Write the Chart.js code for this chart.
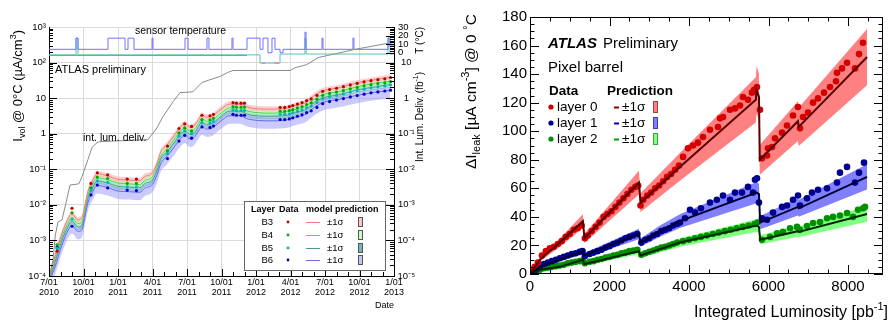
<!DOCTYPE html>
<html>
<head>
<meta charset="utf-8">
<script src="https://cdn.jsdelivr.net/npm/chart.js@4.4.0/dist/chart.umd.min.js"></script>
<style>
  html, body { margin: 0; padding: 0; background: #fff; }
  #wrap { position: relative; width: 891px; height: 320px; overflow: hidden; }
  #left { position: absolute; left: 0; top: 0; }
  #right { position: absolute; left: 455px; top: 0; }
</style>
</head>
<body>
<div id="wrap">
  <canvas id="left" width="455" height="320" style="width:455px;height:320px"></canvas>
  <canvas id="right" width="436" height="320" style="width:436px;height:320px"></canvas>
</div>
<script>
// ---------- left chart: I_vol vs date (months since 7/01/2010) ----------
const dateTickMonths = [0, 3, 6, 9, 12, 15, 18, 21, 24, 27, 30];
const dateTicks = [['7/01','2010'],['10/01','2010'],['1/01','2011'],['4/01','2011'],['7/01','2011'],
                   ['10/01','2011'],['1/01','2012'],['4/01','2012'],['7/01','2012'],['10/01','2012'],['1/01','2013']];
const ivolDecades = [1e-4, 1e-3, 1e-2, 1e-1, 1, 10, 100, 1000];
const lumDecades = [1e-5, 1e-4, 1e-3, 1e-2, 1e-1, 1, 10];

const predMonths = [0.1, 0.5, 1.1, 1.65, 2.0, 2.5, 2.8, 3.4, 3.7, 4.2, 5.1, 6.0, 7.0, 7.9, 8.3, 9.0, 9.4, 9.7, 10.3, 11.0,
                    11.4, 11.8, 12.3, 12.7, 13.0, 13.3, 13.7, 14.2, 14.5, 15.0, 15.7, 16.6, 17.3, 18.2, 19.2, 20.5, 21.4, 22.3, 23.1, 23.8,
                    25.3, 26.8, 28.3, 29.65];
const predB3 = [1.1e-4, 3.5e-4, 1.5e-3, 4e-3, 5.5e-3, 3.8e-3, 4e-3, 2.5e-2, 4.2e-2, 7.5e-2, 6.5e-2, 5.2e-2, 5.0e-2, 4.8e-2, 6.2e-2, 8e-2, 0.15, 0.3, 0.5, 1.0,
                1.5, 1.9, 1.5, 1.8, 2.5, 3.3, 2.9, 3.1, 3.7, 5.0, 6.8, 6.8, 5.5, 5.0, 4.9, 5.1, 6.2, 7.5, 12, 16,
                20, 27, 33, 38];
const predB4 = [1e-4, 2.8e-4, 1.2e-3, 3.1e-3, 4.3e-3, 3e-3, 3.1e-3, 1.95e-2, 3.3e-2, 5.8e-2, 5.1e-2, 4.1e-2, 3.9e-2, 3.7e-2, 4.8e-2, 6.2e-2, 0.12, 0.23, 0.39, 0.78,
                1.17, 1.48, 1.17, 1.4, 1.95, 2.6, 2.25, 2.4, 2.9, 3.9, 5.3, 5.3, 4.3, 3.9, 3.8, 4.0, 4.8, 5.9, 9.4, 12.5,
                15.6, 21, 26, 30];
const predB5 = [0.9e-4, 2.3e-4, 0.95e-3, 2.5e-3, 3.5e-3, 2.4e-3, 2.5e-3, 1.6e-2, 2.65e-2, 4.7e-2, 4.1e-2, 3.3e-2, 3.15e-2, 3.0e-2, 3.9e-2, 5.0e-2, 9.5e-2, 0.19, 0.32, 0.63,
                0.95, 1.2, 0.95, 1.13, 1.6, 2.1, 1.8, 1.95, 2.3, 3.15, 4.3, 4.3, 3.5, 3.15, 3.1, 3.2, 3.9, 4.7, 7.6, 10,
                12.6, 17, 20.5, 24];
const predB6 = [0.8e-4, 1.7e-4, 0.7e-3, 1.9e-3, 2.6e-3, 1.8e-3, 1.9e-3, 1.2e-2, 2.0e-2, 3.5e-2, 3.05e-2, 2.45e-2, 2.35e-2, 2.25e-2, 2.9e-2, 3.8e-2, 7e-2, 0.14, 0.24, 0.47,
                0.7, 0.9, 0.7, 0.85, 1.2, 1.55, 1.35, 1.45, 1.75, 2.35, 3.2, 3.2, 2.6, 2.35, 2.3, 2.4, 2.9, 3.5, 5.6, 7.5,
                9.4, 12, 14.5, 16.5];
// +-1 sigma band, as factor on the prediction [upper, lower]
const bandB3 = [1.2, 0.85], bandB4 = [1.18, 0.85], bandB5 = [1.18, 0.82], bandB6 = [1.25, 0.6];

const dataMonths = [0.7, 2.0, 3.65, 4.2, 5.1, 6.8, 7.6, 10.3, 11.3, 11.8, 12.4, 13.3, 14.0, 14.3, 16.0, 16.3, 16.7, 17.0, 20.1, 20.5,
                    20.9, 21.2, 21.6, 22.0, 22.4, 22.8, 23.3, 23.8, 24.4, 25.0, 25.6, 26.2, 26.8, 27.4, 28.0, 28.6, 29.2, 29.7];
const dataB3 = [5e-4, 8e-3, 4e-2, 8e-2, 7e-2, 5.3e-2, 5.3e-2, 0.45, 1.4, 1.9, 1.6, 3.3, 3.2, 3.5, 7.5, 7.2, 7.2, 7.2, 5.5, 5.5,
                5.8, 6.2, 6.8, 7.5, 8.5, 9.5, 12, 15.5, 17.5, 19, 21, 23.5, 26, 28.5, 31, 33, 35, 38];
const dataB4 = [7.5e-4, 6e-3, 3e-2, 6e-2, 5.5e-2, 4e-2, 4e-2, 0.33, 1.05, 1.45, 1.2, 2.5, 2.45, 2.7, 5.8, 5.6, 5.6, 5.6, 4.3, 4.3,
                4.5, 4.8, 5.3, 5.8, 6.6, 7.4, 9.3, 12, 13.6, 14.8, 16.3, 18.3, 20, 22, 24, 25.7, 27, 29];
const dataB5 = [6e-4, 4e-3, 2.5e-2, 4.7e-2, 4.3e-2, 3.2e-2, 3.2e-2, 0.27, 0.85, 1.2, 1.0, 2.05, 2.0, 2.2, 4.7, 4.5, 4.5, 4.5, 3.5, 3.5,
                3.6, 3.9, 4.3, 4.7, 5.3, 6.0, 7.5, 9.7, 11, 12, 13.2, 14.8, 16.3, 17.8, 19.5, 20.8, 22, 23.5];
const dataB6 = [6.5e-4, 2.5e-3, 1.9e-2, 3.6e-2, 3.0e-2, 2.6e-2, 2.5e-2, 0.2, 0.62, 0.9, 0.75, 1.55, 1.5, 1.65, 3.5, 3.3, 3.3, 3.3, 2.5, 2.5,
                2.6, 2.8, 3.1, 3.4, 3.9, 4.4, 5.5, 7.0, 8.0, 8.8, 9.7, 10.8, 11.8, 12.9, 14.1, 15.0, 15.9, 16.8];

// integrated delivered luminosity (fb^-1)
const lumMonths = [0.0, 0.09, 0.35, 0.55, 0.78, 1.13, 1.48, 1.83, 2.6, 2.87, 3.39, 3.74, 4.17, 4.43, 8.6, 9.4, 9.9, 10.8, 11.4, 12.5,
                   13.3, 14.0, 14.9, 15.5, 16.0, 21.0, 21.4, 22.4, 23.4, 26.6, 29.5, 30];
const lumVals = [1e-5, 1.2e-5, 2.8e-5, 1.4e-4, 3.3e-4, 3.8e-4, 1.15e-3, 3.6e-3, 3.9e-3, 6.2e-3, 1.9e-2, 4.1e-2, 5.6e-2, 6.0e-2, 6.8e-2, 0.148, 0.30, 0.8, 1.43, 1.5,
                 2.75, 3.3, 4.1, 5.2, 6.0, 6.0, 7.2, 8.7, 13.8, 23.5, 35, 36];

// sensor temperature (deg C), step lines
const tempBlueMonths = [0, 2.35, 2.52, 5.13, 6.61, 6.87, 7.39, 8.96, 9.04, 11.83, 12.09, 13.74, 13.91, 15.91, 16.0, 17.22,
                        18.35, 18.61, 19.04, 19.39, 19.65, 20.09, 20.35, 22.26, 22.35, 23.74, 23.83, 26.43, 26.52, 29.48, 29.65, 30];
const tempBlueVals = [4, 17, 4, 17, 4, 17, 4, 17, 4, 17, 4, 17, 4, 17, 4, 17,
                      4, 17, 0, 17, 4, 0, 4, 24, 4, 17, 4, 17, 4, 17, 8, 8];
const tempTealMonths = [0, 2.35, 2.52, 18.35, 20.09, 22.26, 22.35, 29.48, 29.65, 30];
const tempTealVals = [-2.5, 17, -2.5, -12, -1.5, 17, -1.5, 17, -1.5, -1.5];
const tempGreenMonths = [0, 17.22];
const tempGreenVals = [-3, -3];
const tempRedMonths = [18.5, 18.8, 18.8, 19.6, 20.0];
const tempRedVals = [-12, -12, null, -12, -12];

// ---------- right chart: delta I_leak vs integrated luminosity (pb^-1) ----------
const lumiTicks = [0, 2000, 4000, 6000, 8000];
const ileakTicks = [0, 20, 40, 60, 80, 100, 120, 140, 160, 180];

const pred0Lumi = [0, 250, 750, 1330, 1370, 2740, 2780, 3770, 5680, 5700, 5760, 5780, 6740, 6760, 8480];
const pred0 = [0, 10, 22, 37, 25, 64, 50, 75, 122, 129, 124, 80, 107, 103, 152];
const pred1Lumi = [0, 250, 750, 1330, 1370, 2740, 2780, 3270, 3770, 5700, 5760, 5790, 6740, 6760, 8480];
const pred1 = [0, 5, 10, 16, 13, 28, 22, 30, 37, 57, 56, 36, 47, 46, 68];
const pred2Lumi = [0, 250, 750, 1330, 1370, 2740, 2780, 3770, 5700, 5760, 5790, 6740, 6760, 8480];
const pred2 = [0, 3, 5, 10, 7, 16, 13, 22, 34, 33, 24, 30, 29.5, 42];
const bandRel = [0.13, 0.13, 0.13];

const data0Lumi = [50, 120, 200, 300, 400, 500, 600, 700, 800, 900, 1000, 1100, 1200, 1300,
                   1380, 1450, 1550, 1650, 1750, 1850, 1950, 2050, 2150, 2250, 2350, 2450, 2550, 2650, 2720,
                   2780, 2850, 2950, 3050, 3150, 3250, 3350, 3450, 3550, 3650, 3750,
                   3850, 3975, 4100, 4226, 4352, 4528, 4730, 4780, 4855, 5031, 5157, 5283, 5358, 5484, 5584, 5635, 5710, 5786,
                   5836, 5962, 5987, 6088, 6164, 6340, 6465, 6616, 6742, 6792, 6868, 6994, 7120, 7245, 7396, 7547, 7698, 7723, 7849, 7975, 8176, 8277, 8377];
const data0 = [3, 5, 8, 13, 16, 18, 19, 21, 23, 26, 28, 31, 32, 34,
               25, 27, 30, 33, 36, 40, 42, 44, 47, 50, 53, 56, 59, 61, 62,
               48, 52, 55, 57, 60, 62, 65, 68, 70, 73, 76,
               82, 88, 90, 92, 96, 101, 103, 109, 110, 115, 116, 118, 124, 122, 127, 129, 131, 115,
               81, 83, 88, 89, 95, 99, 104, 111, 117, 102, 110, 113, 120, 123, 127, 131, 135, 141, 144, 148, 144, 154, 162];
const data1Lumi = [50, 150, 250, 350, 450, 550, 650, 750, 850, 950, 1050, 1150, 1250, 1320,
                   1380, 1500, 1600, 1700, 1800, 1900, 2000, 2100, 2200, 2300, 2400, 2500, 2600, 2700,
                   2800, 2900, 3000, 3100, 3200, 3300, 3400, 3500, 3600, 3700,
                   3774, 3900, 4025, 4151, 4300, 4528, 4700, 4855, 5031, 5157, 5333, 5484, 5610, 5660, 5710, 5760,
                   5836, 5962, 6113, 6340, 6465, 6616, 6742, 6792, 6968, 7094, 7245, 7472, 7723, 7798, 7975, 8176, 8277, 8402];
const data1 = [1.5, 3, 5, 7, 8, 9, 10, 11, 12, 13, 14, 14.5, 15.5, 16,
               12.5, 14, 15, 16, 17, 18.5, 19.5, 21, 22, 23.5, 25, 26, 27, 28,
               22, 24, 25, 27, 28, 30, 31, 32, 34, 35,
               36, 39, 45, 43, 46, 50, 52, 55, 52, 57, 57, 61, 57, 66, 67, 50,
               39, 38, 43, 47, 48, 52, 55, 48, 53, 57, 59, 60, 64, 71, 75, 64, 71, 78];
const data2Lumi = [50, 150, 250, 350, 450, 550, 650, 750, 850, 950, 1050, 1150, 1250, 1320,
                   1380, 1500, 1600, 1700, 1800, 1900, 2000, 2100, 2200, 2300, 2400, 2500, 2600, 2700,
                   2800, 2900, 3000, 3100, 3200, 3300, 3400, 3500, 3600, 3700, 3850, 4000, 4150, 4300, 4450, 4600, 4750, 4900, 5050, 5200, 5350, 5500, 5650, 5720,
                   5836, 6038, 6214, 6365, 6541, 6717, 6792, 6968, 7120, 7296, 7472, 7623, 7798, 7975, 8126, 8251, 8377, 8427];
const data2 = [1, 2, 3, 4, 4.5, 5, 5.5, 6, 6.5, 7.5, 8, 8.5, 9, 9.5,
               7.5, 8.5, 9, 10, 10.5, 11.5, 12, 13, 13.5, 14.5, 15, 16, 16.5, 17,
               13.5, 14.5, 15.5, 16.5, 17.5, 18.5, 19, 20, 21, 22, 23, 24, 25, 26, 27, 28, 29, 30, 31, 32, 33, 34, 35, 36,
               24, 26, 28.5, 29.5, 32, 33, 31, 33.6, 35.7, 36.4, 39, 40, 41, 42.7, 40, 45, 46, 47];

// ---------- helpers ----------
const FONT = "'Liberation Sans', Arial, Helvetica, sans-serif";
Chart.defaults.font.family = FONT;
Chart.defaults.color = '#000';

const sup = { '-': '\u207B', '0': '\u2070', '1': '\u00B9', '2': '\u00B2', '3': '\u00B3', '4': '\u2074', '5': '\u2075' };
function decadeLabel(v) {
  const e = Math.round(Math.log10(v));
  if (e === 0) return '1';
  if (e === 1) return '10';
  return '10' + String(e).split('').map(c => sup[c]).join('');
}
function pts(xs, ys) { return xs.map((x, i) => ({ x: x, y: ys[i] })); }
function scaled(xs, ys, f) { return xs.map((x, i) => ({ x: x, y: ys[i] * f })); }

function seg(ctx, x1, y1, x2, y2) { ctx.beginPath(); ctx.moveTo(x1, y1); ctx.lineTo(x2, y2); ctx.stroke(); }
function text(ctx, s, x, y, size, style, align) {
  ctx.font = (style || '') + ' ' + size + 'px ' + FONT;
  ctx.textAlign = align || 'left';
  ctx.textBaseline = 'middle';
  ctx.fillStyle = '#000';
  ctx.fillText(s, x, y);
}
// vertical text, reading bottom to top, ending at yTop
function rotatedText(ctx, pieces, x, yTop, base) {
  let total = 0;
  pieces.forEach(p => { ctx.font = p.size + 'px ' + FONT; p.w = ctx.measureText(p.t).width; total += p.w; });
  ctx.save();
  ctx.translate(x, yTop + total);
  ctx.rotate(-Math.PI / 2);
  ctx.textAlign = 'left';
  ctx.textBaseline = 'alphabetic';
  ctx.fillStyle = '#000';
  let cx = 0;
  pieces.forEach(p => { ctx.font = p.size + 'px ' + FONT; ctx.fillText(p.t, cx, base + (p.dy || 0)); cx += p.w; });
  ctx.restore();
}

// ---------- left chart ----------
const layers = [
  { name: 'B3', pred: predB3, data: dataB3, band: bandB3, line: '#f07a7a', dot: '#c00000', fill: 'rgba(255,165,165,0.55)', swatch: '#ffc4c4' },
  { name: 'B4', pred: predB4, data: dataB4, band: bandB4, line: '#55cc55', dot: '#00aa00', fill: 'rgba(150,255,150,0.5)', swatch: '#c4ffc4' },
  { name: 'B5', pred: predB5, data: dataB5, band: bandB5, line: '#4d9a92', dot: '#00b8b8', fill: 'rgba(70,170,170,0.4)', swatch: '#6fbaba' },
  { name: 'B6', pred: predB6, data: dataB6, band: bandB6, line: '#6666ee', dot: '#0000cc', fill: 'rgba(150,150,255,0.5)', swatch: '#c4c4ff' }
];

const leftSets = [];
layers.forEach(L => {
  leftSets.push({ data: scaled(predMonths, L.pred, L.band[0]), fill: '+1', backgroundColor: L.fill, borderColor: 'rgba(0,0,0,0)',
                  borderWidth: 0, pointRadius: 0, cubicInterpolationMode: 'monotone', order: 10 });
  leftSets.push({ data: scaled(predMonths, L.pred, L.band[1]), fill: false, borderColor: 'rgba(0,0,0,0)',
                  borderWidth: 0, pointRadius: 0, cubicInterpolationMode: 'monotone', order: 10 });
});
layers.forEach(L => {
  leftSets.push({ data: pts(predMonths, L.pred), borderColor: L.line, borderWidth: 1, pointRadius: 0, fill: false,
                  cubicInterpolationMode: 'monotone', order: 5 });
  leftSets.push({ data: pts(dataMonths, L.data), showLine: false, pointRadius: 1.6, pointBorderWidth: 0,
                  pointBackgroundColor: L.dot, order: 1 });
});
leftSets.push({ data: pts(lumMonths, lumVals), yAxisID: 'lum', borderColor: '#8a8a8a', borderWidth: 1, pointRadius: 0, fill: false, order: 2 });
leftSets.push({ data: pts(tempTealMonths, tempTealVals), yAxisID: 'temp', stepped: true, borderColor: '#55c4c4', borderWidth: 1, pointRadius: 0, fill: false, order: 4 });
leftSets.push({ data: pts(tempGreenMonths, tempGreenVals), yAxisID: 'temp', stepped: true, borderColor: '#44bb44', borderWidth: 1, pointRadius: 0, fill: false, order: 3.5 });
leftSets.push({ data: pts(tempRedMonths, tempRedVals), yAxisID: 'temp', stepped: true, borderColor: '#ff6666', borderWidth: 1, pointRadius: 0, fill: false, order: 3.2 });
leftSets.push({ data: pts(tempBlueMonths, tempBlueVals), yAxisID: 'temp', stepped: true, borderColor: '#7070ff', borderWidth: 1, pointRadius: 0, fill: false, order: 3 });

const leftDecor = {
  id: 'leftDecor',
  afterDraw(chart) {
    const { ctx, chartArea: a, scales } = chart;
    const x = scales.x, y = scales.y, lum = scales.lum, temp = scales.temp;
    ctx.save();
    ctx.strokeStyle = '#000';
    ctx.lineWidth = 1;
    // inward ticks
    for (let e = -4; e < 3; e++) for (let k = 1; k < 10; k++) {
      const py = Math.round(y.getPixelForValue(k * Math.pow(10, e))) + 0.5;
      seg(ctx, a.left, py, a.left + (k === 1 ? 8 : 4), py);
    }
    for (let e = -5; e <= 1; e++) for (let k = 1; k < 10; k++) {
      if (e === 1 && k > 1) break;
      const py = Math.round(lum.getPixelForValue(k * Math.pow(10, e))) + 0.5;
      seg(ctx, a.right - (k === 1 ? 8 : 4), py, a.right, py);
    }
    for (let t = 0; t <= 30; t += 2) {
      const py = Math.round(temp.getPixelForValue(t)) + 0.5;
      seg(ctx, a.right - (t % 10 === 0 ? 8 : 4), py, a.right, py);
    }
    for (let m = 0; m <= 30; m++) {
      const px = Math.round(x.getPixelForValue(m)) + 0.5;
      seg(ctx, px, a.bottom, px, a.bottom - (m % 3 === 0 ? 7 : 4));
    }
    // temperature labels
    [0, 10, 20, 30].forEach(t => text(ctx, String(t), a.right + 4, temp.getPixelForValue(t), 9.5));
    // annotations
    text(ctx, 'sensor temperature', 135, 31.5, 10.5);
    text(ctx, 'ATLAS preliminary', 55, 70, 11);
    text(ctx, 'int. lum. deliv.', 83, 138.5, 10.5);
    text(ctx, 'Date', a.right, 306, 9, '', 'right');
    rotatedText(ctx, [{ t: 'I', size: 13 }, { t: 'vol', size: 9, dy: 3 }, { t: ' @ 0\u00B0C (\u00B5A/cm', size: 13 },
                      { t: '3', size: 9, dy: -6 }, { t: ')', size: 13 }], 17, 30, 4.7);
    rotatedText(ctx, [{ t: 'Int. Lum. Deliv. (fb', size: 10 }, { t: '-1', size: 7, dy: -4.5 }, { t: ')', size: 10 }], 419, 72, 3.6);
    rotatedText(ctx, [{ t: 'T (\u00B0C)', size: 10 }], 419, 27, 3.6);
    // legend box
    ctx.fillStyle = '#fff';
    ctx.fillRect(244, 201, 141, 69);
    ctx.strokeStyle = '#666';
    ctx.strokeRect(244.5, 201.5, 141, 69);
    text(ctx, 'Layer', 251, 210, 9, 'bold');
    text(ctx, 'Data', 279, 210, 9, 'bold');
    text(ctx, 'model prediction', 306, 210, 9, 'bold');
    const rows = [222, 235, 248, 260];
    layers.forEach((L, i) => {
      const ry = rows[i];
      text(ctx, L.name, 273, ry, 9.5, '', 'right');
      ctx.fillStyle = L.dot;
      ctx.beginPath(); ctx.arc(288, ry, 1.4, 0, 2 * Math.PI); ctx.fill();
      ctx.strokeStyle = L.line;
      seg(ctx, 306, ry + 0.5, 320, ry + 0.5);
      text(ctx, '\u00B11\u03C3', 327, ry, 9.5);
      ctx.fillStyle = L.swatch;
      ctx.fillRect(358.5, ry - 4.5, 4, 9);
      ctx.strokeStyle = '#555';
      ctx.strokeRect(358.5, ry - 4.5, 4, 9);
    });
    ctx.restore();
  }
};

new Chart(document.getElementById('left'), {
  type: 'line',
  data: { datasets: leftSets },
  options: {
    responsive: false,
    animation: false,
    layout: { padding: { top: 27, left: 0, right: 0, bottom: 0 } },
    plugins: { legend: { display: false }, tooltip: { enabled: false } },
    scales: {
      x: {
        type: 'linear', min: 0, max: 30,
        afterBuildTicks: s => { s.ticks = dateTickMonths.map(v => ({ value: v })); },
        afterFit: s => { s.height = 44; },
        ticks: { autoSkip: false, maxRotation: 0, padding: 1, font: { size: 9, lineHeight: 1.12 },
                 callback: (v, i) => dateTicks[i] },
        grid: { color: '#dadada', drawTicks: false },
        border: { color: '#000' }
      },
      y: {
        type: 'logarithmic', position: 'left', min: 1e-4, max: 1e3,
        afterBuildTicks: s => { s.ticks = ivolDecades.map(v => ({ value: v })); },
        afterFit: s => { s.width = 49; },
        ticks: { autoSkip: false, padding: 3, font: { size: 9.5 }, callback: v => decadeLabel(v) },
        grid: { color: '#dadada', drawTicks: false },
        border: { color: '#000' }
      },
      lum: {
        type: 'logarithmic', position: 'right', min: 1e-5, max: 1e2,
        afterBuildTicks: s => { s.ticks = lumDecades.map(v => ({ value: v })); },
        afterFit: s => { s.width = 61; },
        ticks: { autoSkip: false, padding: 3.5, crossAlign: 'center', font: { size: 9.5 }, callback: v => decadeLabel(v) },
        grid: { display: false, drawTicks: false },
        border: { color: '#000' }
      },
      temp: { type: 'linear', min: -260, max: 30, display: false }
    }
  },
  plugins: [leftDecor]
});

// ---------- right chart ----------
const rLayers = [
  { name: 'layer 0', lx: pred0Lumi, pred: pred0, dx: data0Lumi, data: data0, rel: bandRel[0], dot: '#d40000', line: '#5a0000', band: '#ff8080', dash: '#8a0000', edge: '#a04040' },
  { name: 'layer 1', lx: pred1Lumi, pred: pred1, dx: data1Lumi, data: data1, rel: bandRel[1], dot: '#000090', line: '#000030', band: '#8080ff', dash: '#0000b0', edge: '#4040a0' },
  { name: 'layer 2', lx: pred2Lumi, pred: pred2, dx: data2Lumi, data: data2, rel: bandRel[2], dot: '#009000', line: '#002800', band: '#80ff80', dash: '#00a000', edge: '#40a040' }
];
const rightSets = [];
rLayers.forEach(L => {
  rightSets.push({ data: scaled(L.lx, L.pred, 1 + L.rel), fill: '+1', backgroundColor: L.band, borderColor: 'rgba(0,0,0,0)',
                   borderWidth: 0, pointRadius: 0, order: 10 });
  rightSets.push({ data: scaled(L.lx, L.pred, 1 - L.rel), fill: false, borderColor: 'rgba(0,0,0,0)',
                   borderWidth: 0, pointRadius: 0, order: 10 });
});
rLayers.forEach(L => {
  rightSets.push({ data: pts(L.dx, L.data), showLine: false, pointRadius: 3.3, pointBorderWidth: 0,
                   pointBackgroundColor: L.dot, order: 5 });
  rightSets.push({ data: pts(L.lx, L.pred), borderColor: L.line, borderWidth: 2, pointRadius: 0, fill: false, order: 1 });
});

const rightDecor = {
  id: 'rightDecor',
  afterDraw(chart) {
    const { ctx, chartArea: a, scales: { x, y } } = chart;
    ctx.save();
    ctx.strokeStyle = '#000';
    ctx.lineWidth = 1;
    ctx.strokeRect(a.left + 0.5, a.top + 0.5, a.right - a.left - 1, a.bottom - a.top - 1);
    for (let v = 0; v <= 8880; v += 500) {
      const px = Math.round(x.getPixelForValue(v)) + 0.5;
      const L = v % 2000 === 0 ? 9 : 4.5;
      seg(ctx, px, a.bottom, px, a.bottom - L);
      seg(ctx, px, a.top, px, a.top + L);
    }
    for (let v = 0; v <= 180; v += 5) {
      const py = Math.round(y.getPixelForValue(v)) + 0.5;
      const L = v % 20 === 0 ? 9 : 4.5;
      seg(ctx, a.left, py, a.left + L, py);
      seg(ctx, a.right, py, a.right - L, py);
    }
    // axis titles
    ctx.font = '16px ' + FONT;
    ctx.textAlign = 'right';
    ctx.textBaseline = 'alphabetic';
    ctx.fillStyle = '#000';
    const tail = ']';
    const wTail = ctx.measureText(tail).width;
    ctx.font = '11px ' + FONT;
    const wSup = ctx.measureText('-1').width;
    ctx.font = '16px ' + FONT;
    ctx.fillText(tail, 433, 317);
    ctx.font = '11px ' + FONT;
    ctx.fillText('-1', 433 - wTail, 310);
    ctx.font = '16px ' + FONT;
    ctx.fillText('Integrated Luminosity [pb', 433 - wTail - wSup, 317);
    rotatedText(ctx, [{ t: '\u0394I', size: 15.5 }, { t: 'leak', size: 11, dy: 4 }, { t: ' [\u00B5A cm', size: 15.5 },
                      { t: '-3', size: 11, dy: -7 }, { t: '] @ 0 ', size: 15.5 }, { t: '\u00B0', size: 12, dy: -4 },
                      { t: 'C', size: 15.5 }], 15, 14, 6);
    // annotations
    ctx.font = 'italic bold 15px ' + FONT;
    ctx.textAlign = 'left'; ctx.textBaseline = 'middle';
    ctx.fillText('ATLAS', 93, 44);
    text(ctx, 'Preliminary', 148, 44, 15);
    text(ctx, 'Pixel barrel', 93, 68, 15);
    text(ctx, 'Data', 94, 91, 13.5, 'bold');
    text(ctx, 'Prediction', 152, 91, 13.5, 'bold');
    const rows = [107, 123, 139];
    rLayers.forEach((L, i) => {
      const ry = rows[i];
      ctx.fillStyle = L.dot;
      ctx.beginPath(); ctx.arc(96, ry, 2.6, 0, 2 * Math.PI); ctx.fill();
      text(ctx, L.name, 102, ry, 13.5);
      ctx.strokeStyle = L.dash; ctx.lineWidth = 2;
      seg(ctx, 159, ry + 0.5, 164, ry + 0.5);
      ctx.lineWidth = 1;
      text(ctx, '\u00B11\u03C3', 167, ry, 13.5);
      ctx.fillStyle = L.band;
      ctx.fillRect(198.5, ry - 5.5, 4, 11);
      ctx.strokeStyle = L.edge;
      ctx.strokeRect(198.5, ry - 5.5, 4, 11);
    });
    ctx.restore();
  }
};

new Chart(document.getElementById('right'), {
  type: 'line',
  data: { datasets: rightSets },
  options: {
    responsive: false,
    animation: false,
    layout: { padding: { top: 17, right: 8, left: 0, bottom: 0 } },
    plugins: { legend: { display: false }, tooltip: { enabled: false } },
    scales: {
      x: {
        type: 'linear', min: 0, max: 8880,
        afterBuildTicks: s => { s.ticks = lumiTicks.map(v => ({ value: v })); },
        afterFit: s => { s.height = 46; },
        ticks: { autoSkip: false, maxRotation: 0, padding: 4, font: { size: 15 }, callback: v => String(v) },
        grid: { display: false, drawTicks: false },
        border: { display: false }
      },
      y: {
        type: 'linear', min: 0, max: 180,
        afterBuildTicks: s => { s.ticks = ileakTicks.map(v => ({ value: v })); },
        afterFit: s => { s.width = 75; },
        ticks: { autoSkip: false, padding: 3, font: { size: 15 }, callback: v => String(v) },
        grid: { display: false, drawTicks: false },
        border: { display: false }
      }
    }
  },
  plugins: [rightDecor]
});
</script>
</body>
</html>
